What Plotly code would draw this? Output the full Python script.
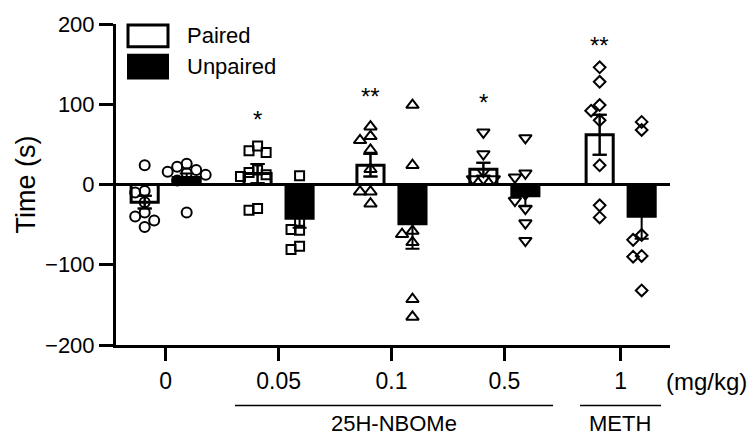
import plotly.graph_objects as go

# ---------------- data ----------------
doses = ["0", "0.05", "0.1", "0.5", "1"]
paired_mean = [-22, 13.6, 24, 19, 62]
paired_sem = [8, 12, 14, 8, 25]
unpaired_mean = [8.6, -42, -49, -14, -39.5]
unpaired_sem = [5, 12, 31, 13, 28]

paired_pts = [
    [24, -10, -8, -22, -35, -40, -45, -53],
    [48, 40, 42, 18, 15, 12, 10, -32, -30],
    [72, 60, 55, 43, 19, -9, -9, -24],
    [65, 38, 16, 7, 7, 7],
    [146, 128, 92, 99, 80, 24, -26, -41],
]
unpaired_pts = [
    [22, 18, 16, 26, 12, 14, 5, -35],
    [11, -20, -25, -47, -56, -57, -81, -77, -30],
    [99, 24, -58, -62, -72, -143, -165, -20],
    [58, 14, 9, -20, -30, -48, -70, -12],
    [68, 78, -63, -69, -89, -90, -132, -20],
]
sig_text = ["", "*", "**", "*", "**"]
sig_y = [None, 81, 110, 102, 173]

series_names = ["Paired", "Unpaired"]
y_ticks = [-200, -100, 0, 100, 200]
group_labels = ["25H-NBOMe", "METH"]

# ---------------- layout geometry / styles ----------------
W, H = 754, 438
L, R, T, B = 116, 84, 21, 93
PW, PH = W - L - R, H - T - B
group_pos = [0, 1, 2, 3, 4.03]
x_range = [-0.44, 4.467]
y_range = [-200, 200]
px_per_x = PW / (x_range[1] - x_range[0])
px_per_y = PH / (y_range[1] - y_range[0])
offset = 0.186
bar_w = 0.24
symbols = ["circle-open", "square-open", "triangle-up-open", "triangle-down-open", "diamond-open"]
msize = [10, 9, 11, 11, 9]
swarm_gap = [0.85, 0.85, 0.85, 0.6, 0.85]
FONT = "Liberation Sans, Arial, sans-serif"


def swarm(values, size, gap):
    """simple beeswarm offsets (in x data units)"""
    step = size * 0.95
    mind = size * gap
    placed = []
    offs = [0.0] * len(values)
    order = sorted(range(len(values)), key=lambda i: -values[i])
    for i in order:
        y = values[i] * px_per_y
        for k in [0, -1, 1, -2, 2, -3, 3]:
            dx = k * step
            if all((dx - a) ** 2 + (y - b) ** 2 >= mind ** 2 for a, b in placed):
                break
        placed.append((dx, y))
        offs[i] = dx / px_per_x
    return offs


def pxx(p):
    return (p - L) / PW


def pxy(p):
    return (H - B - p) / PH


fig = go.Figure()

px_paired = [g - offset for g in group_pos]
px_unpaired = [g + offset for g in group_pos]

fig.add_trace(go.Bar(
    x=px_paired, y=paired_mean, width=bar_w,
    marker=dict(color="white", line=dict(color="black", width=3)),
    error_y=dict(type="data", array=paired_sem, color="black", thickness=2, width=7),
    showlegend=False))
fig.add_trace(go.Bar(
    x=px_unpaired, y=unpaired_mean, width=bar_w,
    marker=dict(color="black", line=dict(color="black", width=3)),
    error_y=dict(type="data", array=unpaired_sem, color="black", thickness=2, width=7),
    showlegend=False))

for gi in range(len(doses)):
    for centers, pts in ((px_paired, paired_pts), (px_unpaired, unpaired_pts)):
        vals = pts[gi]
        offs = swarm(vals, msize[gi], swarm_gap[gi])
        fig.add_trace(go.Scatter(
            x=[centers[gi] + o for o in offs], y=vals, mode="markers",
            marker=dict(symbol=symbols[gi], size=msize[gi], color="black",
                        line=dict(color="black", width=2)),
            showlegend=False, cliponaxis=False))

# redraw error bars on top of points (paired only visible)
fig.add_trace(go.Scatter(
    x=px_paired, y=paired_mean, mode="markers", marker=dict(size=1, color="rgba(0,0,0,0)"),
    error_y=dict(type="data", array=paired_sem, color="black", thickness=2, width=7),
    showlegend=False, hoverinfo="skip"))

annotations = []
for gi, t in enumerate(sig_text):
    if t:
        annotations.append(dict(x=px_paired[gi], y=sig_y[gi], xref="x", yref="y", text=t,
                                showarrow=False, font=dict(size=24, family=FONT, color="black"),
                                yanchor="middle", yshift=0))

shapes = []
# legend boxes
shapes.append(dict(type="rect", xref="paper", yref="paper", x0=pxx(128), x1=pxx(168),
                   y0=pxy(44), y1=pxy(22), line=dict(color="black", width=3), fillcolor="white"))
shapes.append(dict(type="rect", xref="paper", yref="paper", x0=pxx(127), x1=pxx(169),
                   y0=pxy(77), y1=pxy(51), line=dict(width=0), fillcolor="black"))
annotations.append(dict(x=pxx(185), y=pxy(33), xref="paper", yref="paper", text=series_names[0],
                        showarrow=False, xanchor="left", yanchor="middle",
                        font=dict(size=22, family=FONT, color="black")))
annotations.append(dict(x=pxx(185), y=pxy(64), xref="paper", yref="paper", text=series_names[1],
                        showarrow=False, xanchor="left", yanchor="middle",
                        font=dict(size=22, family=FONT, color="black")))

# group lines below the axis
shapes.append(dict(type="line", xref="paper", yref="paper", x0=pxx(235), x1=pxx(553),
                   y0=pxy(406), y1=pxy(406), line=dict(color="black", width=1.5)))
shapes.append(dict(type="line", xref="paper", yref="paper", x0=pxx(580), x1=pxx(661),
                   y0=pxy(406), y1=pxy(406), line=dict(color="black", width=1.5)))
annotations.append(dict(x=pxx(394), y=pxy(424), xref="paper", yref="paper", text=group_labels[0],
                        showarrow=False, xanchor="center", yanchor="middle",
                        font=dict(size=22, family=FONT, color="black")))
annotations.append(dict(x=pxx(620), y=pxy(424), xref="paper", yref="paper", text=group_labels[1],
                        showarrow=False, xanchor="center", yanchor="middle",
                        font=dict(size=22, family=FONT, color="black")))
annotations.append(dict(x=pxx(706), y=pxy(382), xref="paper", yref="paper", text="(mg/kg)",
                        showarrow=False, xanchor="center", yanchor="middle",
                        font=dict(size=24, family=FONT, color="black")))

fig.update_layout(
    width=W, height=H,
    margin=dict(l=L, r=R, t=T, b=B, pad=0),
    paper_bgcolor="white", plot_bgcolor="white",
    barmode="overlay",
    font=dict(family=FONT, color="black"),
    shapes=shapes, annotations=annotations,
    xaxis=dict(range=x_range, tickvals=group_pos, ticktext=doses, ticks="outside",
               ticklen=13, tickwidth=3, tickcolor="black", showline=True, linewidth=3,
               linecolor="black", showgrid=False, zeroline=False,
               tickfont=dict(size=23, family=FONT, color="black")),
    yaxis=dict(range=y_range, tickvals=y_ticks, ticks="outside", ticklen=14, tickwidth=3,
               tickcolor="black", showline=True, linewidth=3, linecolor="black",
               showgrid=False, zeroline=True, zerolinecolor="black", zerolinewidth=3,
               tickfont=dict(size=22, family=FONT, color="black"),
               title=dict(text="Time (s)", font=dict(size=27, family=FONT, color="black"),
                          standoff=2)),
)

fig.write_html("out.html", config={"displayModeBar": False},
               post_script="document.body.style.margin='0px';")
